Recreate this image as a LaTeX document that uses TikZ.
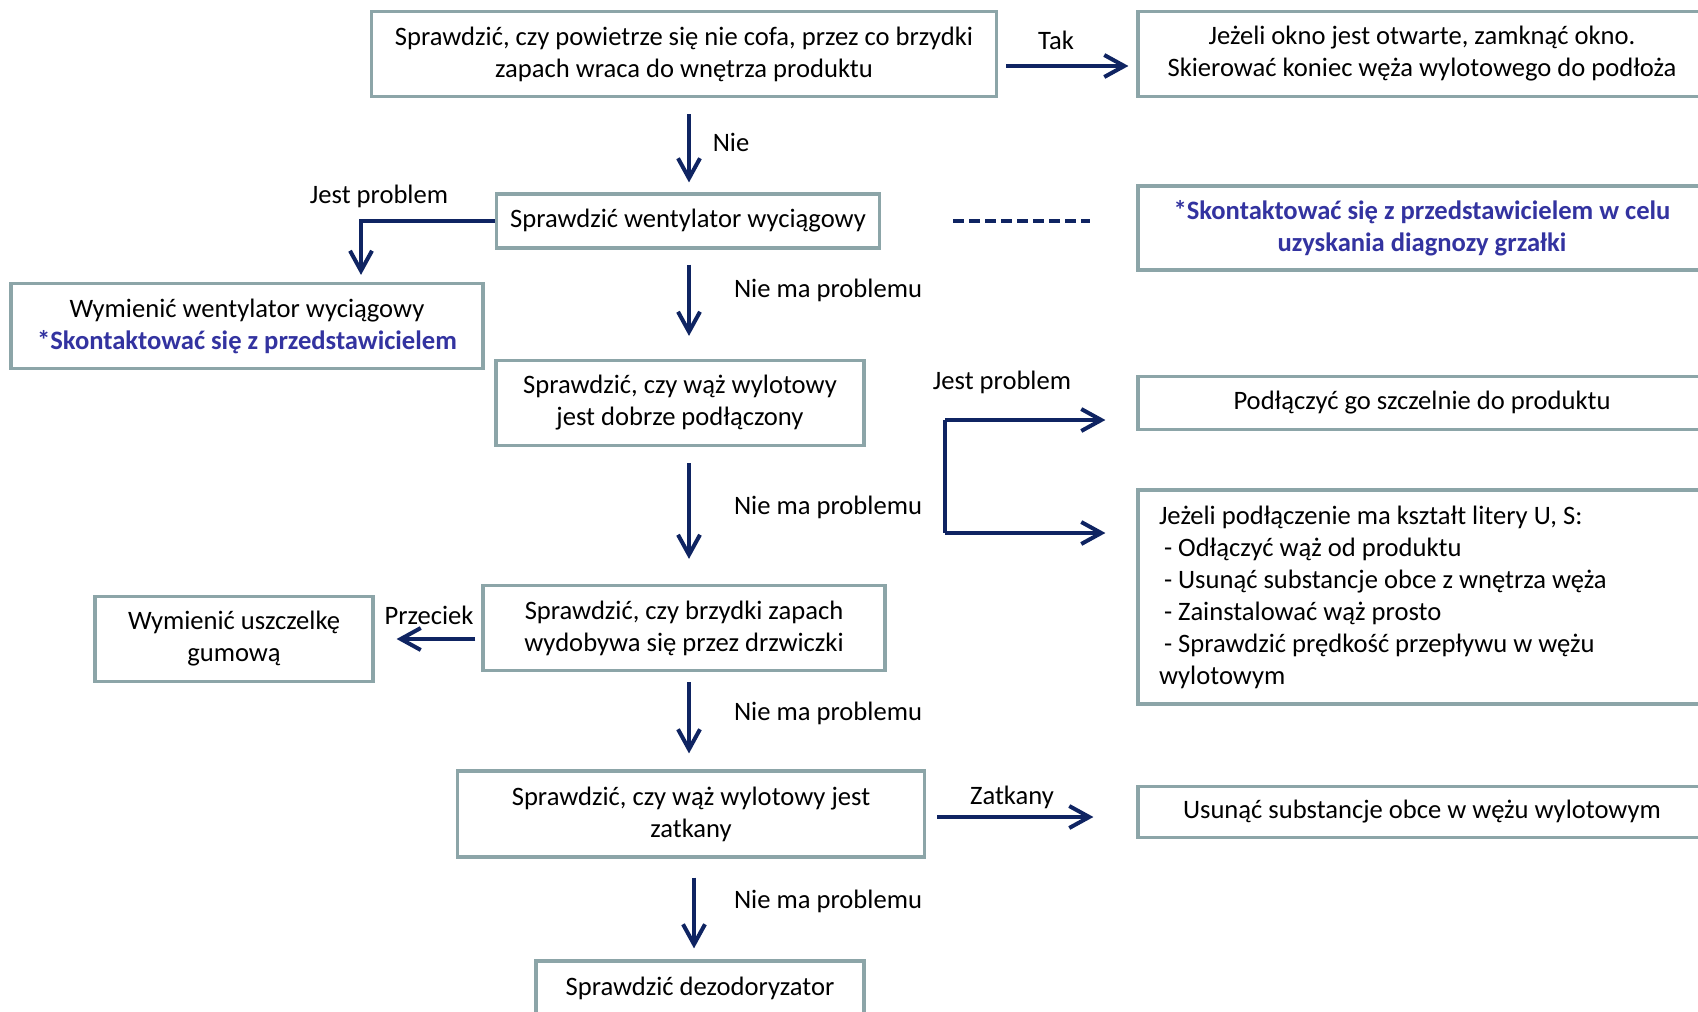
\documentclass[tikz,border=0pt]{standalone}
\usepackage{fontspec}
\setmainfont{Carlito}
\usepackage{tikz}
\usetikzlibrary{arrows.meta,calc,positioning}
\definecolor{boxline}{RGB}{140,165,168}
\definecolor{navy}{RGB}{15,36,98}
\definecolor{contact}{RGB}{51,51,160}
\newcommand{\kontakt}{\color{contact}\bfseries}

\begin{document}
\begin{tikzpicture}[x=.5pt,y=-.5pt,font=\fontsize{13.3}{16}\selectfont,
    box/.style={draw=boxline,line width=1.6pt,align=center,inner sep=0pt},
    arr/.style={-{Straight Barb[length=10pt,width=11pt]},navy,line width=2pt},
    lbl/.style={inner sep=0pt}]
  \useasboundingbox (0,0) rectangle (1698,1012);
  \clip (0,0) rectangle (1698,1012);
  \node[box,minimum width=312.5pt,minimum height=42.5pt] (q1) at (684,54) {Sprawdzić, czy powietrze się nie cofa, przez co brzydki\\zapach wraca do wnętrza produktu};
  \node[box,minimum width=284pt,minimum height=42.5pt] (tak) at (1422,54) {Jeżeli okno jest otwarte, zamknąć okno.\\Skierować koniec węża wylotowego do podłoża};
  \node[box,minimum width=191.5pt,minimum height=27pt] (q2) at (688,221) {Sprawdzić wentylator wyciągowy};
  \node[box,minimum width=284pt,minimum height=42pt,font=\fontsize{13.3}{16}\selectfont\kontakt] (heat) at (1422,228) {*Skontaktować się z przedstawicielem w celu\\uzyskania diagnozy grzałki};
  \node[box,minimum width=236pt,minimum height=42.5pt] (fan) at (247,326) {Wymienić wentylator wyciągowy\\{\kontakt *Skontaktować się z przedstawicielem}};
  \node[box,minimum width=184pt,minimum height=42.5pt] (q3) at (680,403) {Sprawdzić, czy wąż wylotowy\\jest dobrze podłączony};
  \node[box,minimum width=284pt,minimum height=26.5pt] (plug) at (1422,403) {Podłączyć go szczelnie do produktu};
  \node[box,minimum width=284pt,minimum height=107pt,text width=263pt,align=flush left] (shape) at (1422,597) {Jeżeli podłączenie ma kształt litery U, S:\\
    \hspace*{2.5pt}- Odłączyć wąż od produktu\\
    \hspace*{2.5pt}- Usunąć substancje obce z wnętrza węża\\
    \hspace*{2.5pt}- Zainstalować wąż prosto\\
    \hspace*{2.5pt}- Sprawdzić prędkość przepływu w wężu\\
    wylotowym};
  \node[box,minimum width=201pt,minimum height=42.5pt] (q4) at (684,628) {Sprawdzić, czy brzydki zapach\\wydobywa się przez drzwiczki};
  \node[box,minimum width=139pt,minimum height=42.5pt] (seal) at (234,639) {Wymienić uszczelkę\\gumową};
  \node[box,minimum width=233.5pt,minimum height=43pt] (q5) at (691,814) {Sprawdzić, czy wąż wylotowy jest\\zatkany};
  \node[box,minimum width=284pt,minimum height=25.5pt] (clean) at (1422,812) {Usunąć substancje obce w wężu wylotowym};
  \node[box,minimum width=164pt,minimum height=27pt] (q6) at (700,988) {Sprawdzić dezodoryzator};

  \node[lbl] (lTak) at (1056,40) {Tak};
  \node[lbl] (lNie) at (731,142) {Nie};
  \node[lbl] (lFan) at (379,196) {Jest problem};
  \node[lbl] (lOk1) at (828,290) {Nie ma problemu};
  \node[lbl] (lHose) at (1002,382) {Jest problem};
  \node[lbl] (lOk2) at (828,507) {Nie ma problemu};
  \node[lbl] (lLeak) at (429,615) {Przeciek};
  \node[lbl] (lOk3) at (828,713) {Nie ma problemu};
  \node[lbl] (lClog) at (1012,797) {Zatkany};
  \node[lbl] (lOk4) at (828,901) {Nie ma problemu};

  \coordinate (spine) at (689,0);
  \coordinate (spine2) at (694,0);
  \coordinate (forktop) at (945,420);
  \coordinate (forkbot) at (945,533);
  \draw[arr,shorten <=4pt,shorten >=4pt] ([yshift=-6pt]q1.east) -- ([yshift=-6pt]tak.west);
  \draw[arr,shorten <=8pt,shorten >=5pt] (q1.south -| spine) -- (q2.north -| spine);
  \draw[arr,shorten >=3.5pt] (q2.west) -| ([xshift=57pt]fan.north);
  \draw[navy,line width=2pt,dash pattern=on 5.5pt off 2.5pt,shorten <=36pt,shorten >=23pt] (q2.east) -- (q2.east -| heat.west);
  \draw[arr,shorten <=7.5pt,shorten >=11.5pt] (q2.south -| spine) -- (q3.north -| spine);
  \draw[navy,line width=2pt] (forktop) -- (forkbot);
  \draw[arr,shorten >=15.5pt] (forktop) -- (forktop -| plug.west);
  \draw[arr,shorten >=15.5pt] (forkbot) -- (forkbot -| shape.west);
  \draw[arr,shorten <=8pt,shorten >=12.5pt] (q3.south -| spine) -- (q4.north -| spine);
  \draw[arr,shorten <=3pt,shorten >=11pt] (q4.west |- seal.east) -- (seal.east);
  \draw[arr,shorten <=5pt,shorten >=8pt] (q4.south -| spine) -- (q5.north -| spine);
  \draw[arr,shorten <=5.5pt,shorten >=21.5pt] ([yshift=-1.5pt]q5.east) -- ([yshift=-1.5pt]q5.east -| clean.west);
  \draw[arr,shorten <=9.5pt,shorten >=5.5pt] (q5.south -| spine2) -- (q6.north -| spine2);
\end{tikzpicture}
\end{document}
